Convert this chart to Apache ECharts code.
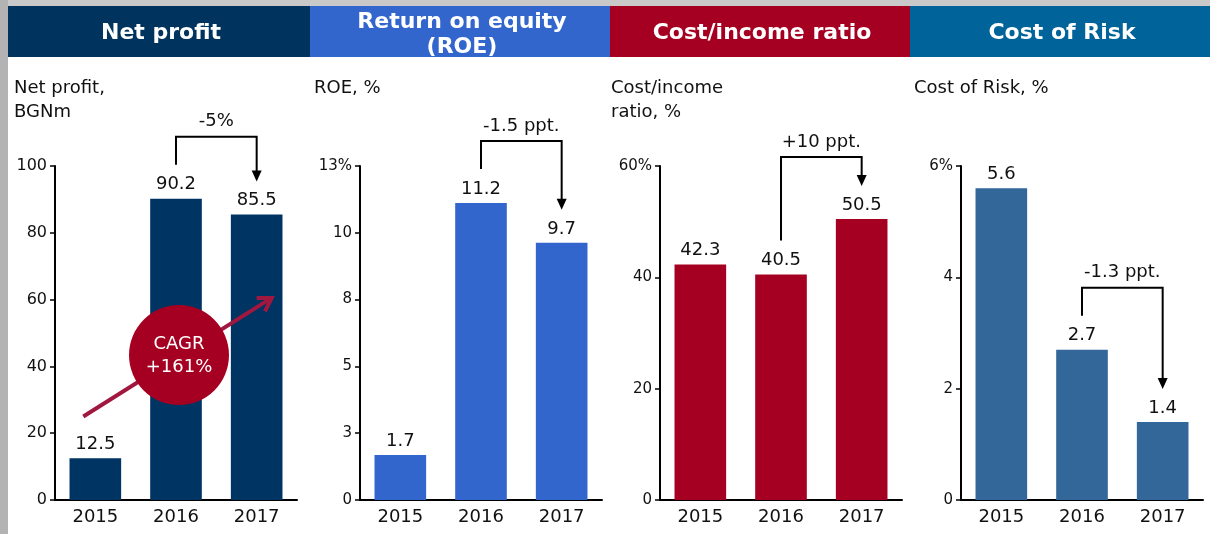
<!DOCTYPE html>
<html>
<head>
<meta charset="utf-8">
<style>
  html, body { margin: 0; padding: 0; background: #fff; }
  #chart { width: 1210px; height: 534px; }
</style>
<script src="https://cdn.jsdelivr.net/npm/echarts@6/dist/echarts.min.js"></script>
</head>
<body>
<div id="chart"></div>
<script>
// data
var years = ['2015', '2016', '2017']
var netProfit = [12.5, 90.2, 85.5]
var roe = [1.7, 11.2, 9.7]
var costIncome = [42.3, 40.5, 50.5]
var costOfRisk = [5.6, 2.7, 1.4]

var headers = ['Net profit', 'Return on equity\n(ROE)', 'Cost/income ratio', 'Cost of Risk']
var subtitles = ['Net profit,\nBGNm', 'ROE, %', 'Cost/income\nratio, %', 'Cost of Risk, %']
var changes = ['-5%', '-1.5 ppt.', '+10 ppt.', '-1.3 ppt.']
// ROE axis: ticks are printed rounded (0, 3, 5, 8, 10, 13%)
var axisMax = [100, 12.6, 60, 6]
var axisStep = [20, 2.52, 20, 2]
var topSuffix = ['', '%', '%', '%']
var cagrText = 'CAGR\n+161%'

var FONT = 'DejaVu Sans'
var headColors = ['#00345f', '#3366cc', '#a50021', '#00639a']
var barColors = ['#003462', '#3366cc', '#a50021', '#336699']
var panelX = [8, 310, 610, 910]
var panelW = [302, 300, 300, 300]
var gridLeft = [55, 360, 660, 961]
var series = [netProfit, roe, costIncome, costOfRisk]

var chart = echarts.init(document.getElementById('chart'))

var grids = []
var xAxes = []
var yAxes = []
var bars = []
series.forEach(function (data, i) {
  grids.push({ left: gridLeft[i], top: 166, width: 242, height: 334 })
  xAxes.push({
    type: 'category',
    gridIndex: i,
    data: years,
    axisLine: { lineStyle: { color: '#000', width: 2 } },
    axisTick: { show: false },
    axisLabel: { color: '#111', fontFamily: FONT, fontSize: 18, margin: 8 }
  })
  yAxes.push({
    type: 'value',
    gridIndex: i,
    min: 0,
    max: axisMax[i],
    interval: axisStep[i],
    splitLine: { show: false },
    axisLine: { show: true, lineStyle: { color: '#000', width: 2 } },
    axisTick: { show: true, length: 5, lineStyle: { color: '#000', width: 1.5 } },
    axisLabel: {
      color: '#111',
      fontFamily: FONT,
      fontSize: i === 0 ? 16 : 15,
      margin: 8,
      formatter: function (v) {
        var s = String(Math.round(v))
        if (Math.abs(v - axisMax[i]) < 1e-6) s += topSuffix[i]
        return s
      }
    }
  })
  bars.push({
    type: 'bar',
    xAxisIndex: i,
    yAxisIndex: i,
    data: data,
    barWidth: '64%',
    itemStyle: { color: barColors[i] },
    label: {
      show: true,
      position: 'top',
      distance: 5,
      color: '#111',
      fontFamily: FONT,
      fontSize: 18,
      formatter: function (p) { return p.value.toFixed(1) }
    }
  })
})

chart.setOption({
  animation: false,
  grid: grids,
  xAxis: xAxes,
  yAxis: yAxes,
  series: bars
})

// headers, frame and subtitles
var g = [
  { type: 'rect', shape: { x: 0, y: 0, width: 1210, height: 6 }, style: { fill: '#c9c9c9' } },
  { type: 'rect', shape: { x: 0, y: 0, width: 8, height: 534 }, style: { fill: '#b3b3b3' } }
]
headers.forEach(function (h, i) {
  g.push({ type: 'rect', shape: { x: panelX[i], y: 6, width: panelW[i], height: 51 }, style: { fill: headColors[i] } })
  g.push({
    type: 'text',
    x: panelX[i] + panelW[i] / 2 + 2,
    y: i === 1 ? 34.5 : 33,
    style: {
      text: h,
      fill: '#fff',
      font: 'bold 22px ' + FONT,
      align: 'center',
      verticalAlign: 'middle',
      lineHeight: 25
    }
  })
  g.push({
    type: 'text',
    x: panelX[i] + (i === 0 ? 6 : i === 2 ? 1 : 4),
    y: 76,
    style: { text: subtitles[i], fill: '#111', font: '18px ' + FONT, lineHeight: 24 }
  })
})

// change brackets, placed from the bar positions
series.forEach(function (data, i) {
  var p1 = chart.convertToPixel({ gridIndex: i }, [1, data[1]])
  var p2 = chart.convertToPixel({ gridIndex: i }, [2, data[2]])
  var top = Math.min(p1[1], p2[1]) - 62
  var tip = p2[1] - 33
  g.push({
    type: 'polyline',
    z: 100,
    shape: { points: [[p1[0], p1[1] - 34], [p1[0], top], [p2[0], top], [p2[0], tip - 10]] },
    style: { stroke: '#000', lineWidth: 2, fill: null }
  })
  g.push({
    type: 'polygon',
    z: 100,
    shape: { points: [[p2[0] - 5, tip - 11], [p2[0] + 5, tip - 11], [p2[0], tip]] },
    style: { fill: '#000' }
  })
  g.push({
    type: 'text',
    z: 100,
    x: (p1[0] + p2[0]) / 2,
    y: top - 15,
    style: { text: changes[i], fill: '#111', font: '18px ' + FONT, align: 'center', verticalAlign: 'middle' }
  })
})

// CAGR arrow and bubble on the first panel
var a0 = chart.convertToPixel({ gridIndex: 0 }, [0, 25])
var a1 = chart.convertToPixel({ gridIndex: 0 }, [2, 60.5])
var sx = a0[0] - 12, sy = a0[1]
var ex = a1[0] + 15, ey = a1[1]
var ang = Math.atan2(ey - sy, ex - sx)
var arm = 15
var w1 = [ex - arm * Math.cos(ang - 0.55), ey - arm * Math.sin(ang - 0.55)]
var w2 = [ex - arm * Math.cos(ang + 0.55), ey - arm * Math.sin(ang + 0.55)]
g.push({
  type: 'line', z: 100,
  shape: { x1: sx, y1: sy, x2: ex, y2: ey },
  style: { stroke: '#a0173f', lineWidth: 4 }
})
g.push({
  type: 'polyline', z: 100,
  shape: { points: [w1, [ex, ey], w2] },
  style: { stroke: '#a0173f', lineWidth: 4, fill: null, lineJoin: 'miter' }
})
var c = chart.convertToPixel({ gridIndex: 0 }, [1, 43.4])
g.push({
  type: 'circle', z: 101,
  shape: { cx: c[0] + 3, cy: c[1], r: 50 },
  style: { fill: '#a50021' }
})
g.push({
  type: 'text', z: 102,
  x: c[0] + 3, y: c[1] + 1,
  style: { text: cagrText, fill: '#fff', font: '18px ' + FONT, align: 'center', verticalAlign: 'middle', lineHeight: 23 }
})

chart.setOption({ graphic: g })
</script>
</body>
</html>
